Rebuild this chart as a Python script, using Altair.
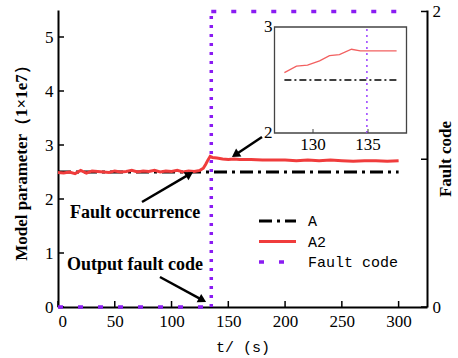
import altair as alt
import pandas as pd

# ---------------- data ----------------
series_names = ["A", "A2", "Fault code"]
series_colors = ["#000000", "#f03c3c", "#8a1cf2"]
series_dashes = [[13, 5, 3, 5], [1, 0], [5, 15]]

t_A = [0, 300]
A_vals = [2.5, 2.5]

t_A2 = [0, 5, 10, 15, 20, 25, 30, 35, 40, 45, 50, 55, 60, 65, 70, 75, 80, 85, 90,
        95, 100, 105, 110, 115, 120, 125, 128, 130, 132, 134, 136, 140, 145, 150,
        155, 160, 170, 180, 190, 200, 210, 220, 230, 240, 250, 260, 270, 280, 290, 300]
A2_vals = [2.49, 2.48, 2.50, 2.47, 2.53, 2.48, 2.52, 2.51, 2.50, 2.49, 2.52, 2.50,
           2.51, 2.53, 2.50, 2.52, 2.51, 2.53, 2.50, 2.52, 2.51, 2.53, 2.50, 2.52,
           2.51, 2.53, 2.57, 2.64, 2.72, 2.79, 2.77, 2.76, 2.74, 2.73, 2.74, 2.73,
           2.73, 2.72, 2.72, 2.72, 2.71, 2.72, 2.71, 2.72, 2.71, 2.70, 2.71, 2.71,
           2.70, 2.71]

fault_t = [0, 135, 135, 300]
fault_code = [0, 0, 2, 2]
fault_seg = ["low", "low", "high", "high"]
fault_switch_t = [135]

x_ticks = [0, 50, 100, 150, 200, 250, 300]
y_left_ticks = [0, 1, 2, 3, 4, 5]
y_right_ticks = [0, 1, 2]
y_right_labels = [0, 2]

# inset
inset_x_dom = [126.5, 138.5]
inset_y_dom = [2, 3]
inset_t = [127.4, 128.5, 129.5, 130.6, 131.5, 132.4, 133.5, 134.3, 135.5, 136.5, 137.6]
inset_A2 = [2.57, 2.63, 2.64, 2.68, 2.73, 2.74, 2.79, 2.775, 2.775, 2.775, 2.775]
inset_A_t = [127.4, 137.6]
inset_A = [2.5, 2.5]
inset_switch_t = [134.9]
inset_x_ticks = [130, 135]
inset_y_ticks = [2, 3]

# annotations
annot_text = ["Fault occurrence", "Output fault code"]
annot_t = [10.6, 7.9]
annot_v = [1.74, 0.78]
arrow_tail_t = [74.0, 89.8, 179.7]
arrow_tail_v = [1.944, 0.556, 3.148]
arrow_head_t = [115.9, 127.3, 156.2]
arrow_head_v = [2.46, 0.128, 2.819]
arrow_angle = [59.5, 118.5, 236.3]

# ---------------- layout ----------------
W, H = 369, 297
SERIF = "Liberation Serif"
MONO = "Liberation Mono"

x_main = alt.Scale(domain=[0, 325], nice=False, zero=False)
y_left = alt.Scale(domain=[0, 5.5], nice=False)
y_right = alt.Scale(domain=[0, 2.01], nice=False)
x_in = alt.Scale(domain=inset_x_dom, range=[216.5, 348.5], nice=False, zero=False)
y_in = alt.Scale(domain=inset_y_dom, range=[123, 17], nice=False, zero=False)

df_A = pd.DataFrame({"t": t_A, "v": A_vals})
df_A2 = pd.DataFrame({"t": t_A2, "v": A2_vals})
df_fault = pd.DataFrame({"t": fault_t, "c": fault_code, "seg": fault_seg})
df_switch = pd.DataFrame({"t": fault_switch_t, "c0": [0], "c1": [2]})

x_axis = alt.Axis(values=x_ticks, format="d", title="t/ (s)", titleFont=MONO,
                  titleFontWeight="normal", titleFontSize=15, labelPadding=6,
                  titlePadding=10, orient="bottom", labelFont=SERIF, labelFontSize=17)
y_axis = alt.Axis(values=y_left_ticks, format="d", title="Model parameter（1×1e7）",
                  labelPadding=5, titlePadding=14, orient="left",
                  labelFont=SERIF, labelFontSize=17)

line_A = alt.Chart(df_A).mark_line(strokeWidth=3, color=series_colors[0],
                                   strokeDash=series_dashes[0]).encode(
    x=alt.X("t:Q", scale=x_main, axis=x_axis),
    y=alt.Y("v:Q", scale=y_left, axis=y_axis))

line_A2 = alt.Chart(df_A2).mark_line(strokeWidth=3, color=series_colors[1]).encode(
    x=alt.X("t:Q", scale=x_main),
    y=alt.Y("v:Q", scale=y_left))

xt = alt.Chart(pd.DataFrame({"t": x_ticks})).mark_rule(color="black", strokeWidth=1.5).encode(
    x=alt.X("t:Q", scale=x_main), y=alt.value(H), y2=alt.value(H - 6))
ylt = alt.Chart(pd.DataFrame({"v": y_left_ticks})).mark_rule(color="black", strokeWidth=1.5).encode(
    y=alt.Y("v:Q", scale=y_left), x=alt.value(0), x2=alt.value(6))

df_arrow_lines = pd.DataFrame({
    "id": [0, 1, 2] * 2,
    "t": arrow_tail_t + arrow_head_t,
    "v": arrow_tail_v + arrow_head_v,
    "o": [0, 0, 0, 1, 1, 1],
})
arrow_lines = alt.Chart(df_arrow_lines).mark_line(color="black", strokeWidth=2.5).encode(
    x=alt.X("t:Q", scale=x_main), y=alt.Y("v:Q", scale=y_left), detail="id:N", order="o:Q")
df_heads = pd.DataFrame({"t": arrow_head_t, "v": arrow_head_v, "ang": arrow_angle})
arrow_heads = alt.Chart(df_heads).mark_point(shape="triangle-up", filled=True, color="black",
                                              size=90, opacity=1).encode(
    x=alt.X("t:Q", scale=x_main), y=alt.Y("v:Q", scale=y_left),
    angle=alt.Angle("ang:Q", scale=None))

df_annot = pd.DataFrame({"t": annot_t, "v": annot_v, "txt": annot_text})
annots = alt.Chart(df_annot).mark_text(font=SERIF, fontSize=18, fontWeight="bold",
                                       align="left", baseline="middle", color="black").encode(
    x=alt.X("t:Q", scale=x_main), y=alt.Y("v:Q", scale=y_left), text="txt:N")

# legend (drawn as marks)
LEG_X0, LEG_X1, LEG_TX, LEG_Y0, LEG_DY = 201, 238, 250, 211, 20.5
legend_layers = []
for i, name in enumerate(series_names):
    yy = LEG_Y0 + LEG_DY * i
    legend_layers.append(
        alt.Chart(pd.DataFrame({"series": [name]})).mark_rule(
            color=series_colors[i], strokeWidth=3.5 if i == 2 else 3,
            strokeDash=series_dashes[i]).encode(
            x=alt.value(LEG_X0), x2=alt.value(LEG_X1), y=alt.value(yy)))
    legend_layers.append(
        alt.Chart(pd.DataFrame({"series": [name]})).mark_text(
            font=MONO, fontSize=15, align="left", baseline="middle", color="black").encode(
            x=alt.value(LEG_TX), y=alt.value(yy), text="series:N"))

left_group = alt.layer(line_A, line_A2, xt, ylt, arrow_lines, arrow_heads, annots, *legend_layers)

# right axis group
fault_lines = alt.Chart(df_fault).mark_line(strokeWidth=3.5, color=series_colors[2],
                                            strokeDash=series_dashes[2]).encode(
    x=alt.X("t:Q", scale=x_main, axis=None),
    y=alt.Y("c:Q", scale=y_right,
            axis=alt.Axis(orient="right", values=y_right_labels, format="d",
                          title="Fault code", titleAngle=270, labelPadding=5,
                          titlePadding=14, labelFont=SERIF, labelFontSize=17)),
    detail="seg:N")
fault_vert = alt.Chart(df_switch).mark_rule(color=series_colors[2], strokeWidth=3.5,
                                            strokeDash=[3, 6]).encode(
    x=alt.X("t:Q", scale=x_main, axis=None),
    y=alt.Y("c0:Q", scale=y_right), y2="c1:Q")
yrt = alt.Chart(pd.DataFrame({"c": y_right_ticks})).mark_rule(color="black", strokeWidth=1.5).encode(
    y=alt.Y("c:Q", scale=y_right), x=alt.value(W), x2=alt.value(W - 6))
right_group = alt.layer(fault_lines, fault_vert, yrt)

# inset group
df_box = pd.DataFrame({"x0": [inset_x_dom[0]], "x1": [inset_x_dom[1]],
                       "y0": [inset_y_dom[0]], "y1": [inset_y_dom[1]]})
box = alt.Chart(df_box).mark_rect(fill="white", stroke="#444444", strokeWidth=1.3).encode(
    x=alt.X("x0:Q", scale=x_in, axis=None), x2="x1:Q",
    y=alt.Y("y0:Q", scale=y_in, axis=None), y2="y1:Q")
in_A2 = alt.Chart(pd.DataFrame({"t": inset_t, "v": inset_A2})).mark_line(
    color="#f26060", strokeWidth=1.3).encode(
    x=alt.X("t:Q", scale=x_in, axis=None), y=alt.Y("v:Q", scale=y_in, axis=None))
in_A = alt.Chart(pd.DataFrame({"t": inset_A_t, "v": inset_A})).mark_line(
    color="black", strokeWidth=1.3, strokeDash=[7, 3, 2, 3]).encode(
    x=alt.X("t:Q", scale=x_in, axis=None), y=alt.Y("v:Q", scale=y_in, axis=None))
in_sw = alt.Chart(pd.DataFrame({"t": inset_switch_t, "v0": [inset_y_dom[0]], "v1": [inset_y_dom[1]]})).mark_rule(
    color="#9a40ff", strokeWidth=1.5, strokeDash=[2, 4]).encode(
    x=alt.X("t:Q", scale=x_in, axis=None), y=alt.Y("v0:Q", scale=y_in, axis=None), y2="v1:Q")
in_xt = alt.Chart(pd.DataFrame({"t": inset_x_ticks})).mark_rule(color="#444444", strokeWidth=1).encode(
    x=alt.X("t:Q", scale=x_in, axis=None), y=alt.value(123), y2=alt.value(119))
in_xl = alt.Chart(pd.DataFrame({"t": inset_x_ticks, "v": [inset_y_dom[0]] * 2})).mark_text(
    font=SERIF, fontSize=17, baseline="top", dy=4, color="black").encode(
    x=alt.X("t:Q", scale=x_in, axis=None), y=alt.Y("v:Q", scale=y_in, axis=None), text="t:Q")
in_yl = alt.Chart(pd.DataFrame({"t": [inset_x_dom[0]] * 2, "v": inset_y_ticks})).mark_text(
    font=SERIF, fontSize=17, align="right", baseline="middle", dx=-2, color="black").encode(
    x=alt.X("t:Q", scale=x_in, axis=None), y=alt.Y("v:Q", scale=y_in, axis=None), text="v:Q")
inset_group = alt.layer(box, in_A, in_A2, in_sw, in_xt, in_xl, in_yl)

chart = alt.layer(left_group, right_group, inset_group).resolve_scale(
    x="independent", y="independent"
).properties(
    width=W, height=H, autosize=alt.AutoSizeParams(type="none"),
    padding={"left": 58, "top": 10, "right": 31, "bottom": 51},
    background="white",
).configure_view(stroke=None).configure_axis(
    labelFont=SERIF, labelFontSize=17, labelColor="black",
    domainColor="black", domainWidth=2, ticks=False, grid=False,
    titleFont=SERIF, titleFontSize=17, titleFontWeight="bold", titleColor="black",
)

chart.save("out.html", embed_options={"renderer": "svg", "actions": False})
